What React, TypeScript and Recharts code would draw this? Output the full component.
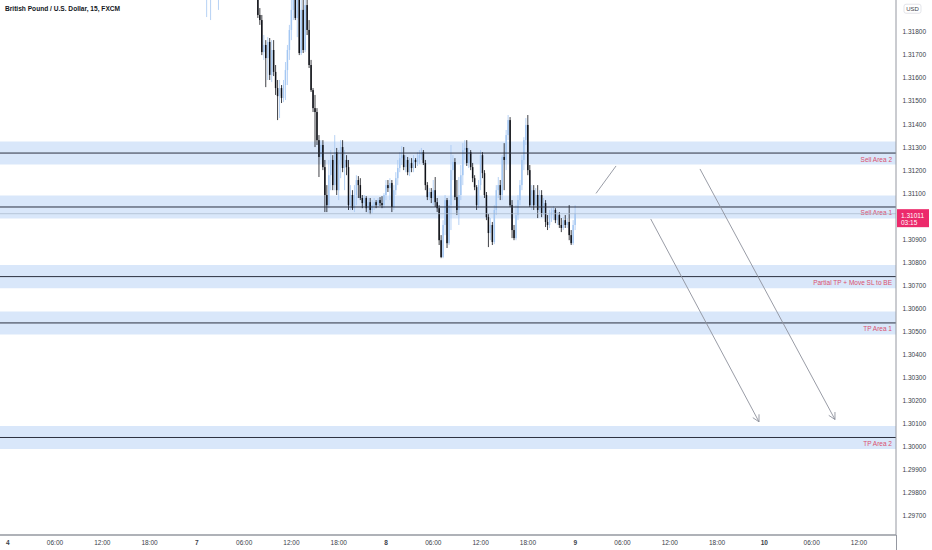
import React from 'react';
import { ComposedChart, Bar, XAxis, YAxis, ReferenceArea, ReferenceLine } from 'recharts';

// ---------- data ----------
const BAR_HOURS = 0.25; // 15-minute candles
const MAIN_START_HOUR = 31.75; // Monday 07:45 (hours since Friday 00:00, weekend skipped)

const earlyHours = [25.25, 25.75, 26.75];
const earlyOpen = [1.3196, 1.31981, 1.3196];
const earlyHigh = [1.32068, 1.32047, 1.32047];
const earlyLow = [1.31864, 1.31851, 1.31895];
const earlyClose = [1.32025, 1.32003, 1.32003];

const mainOpen = [
  1.32068, 1.31873, 1.31851, 1.31712, 1.31743, 1.31686, 1.31756, 1.31613, 1.31721, 1.31626,
  1.31556, 1.31521, 1.31556, 1.31513, 1.31569, 1.31634, 1.31721, 1.31808, 1.31895, 1.31981,
  1.3186, 1.32003, 1.31708, 1.31895, 1.31721, 1.31916, 1.31808, 1.31656, 1.31547, 1.31469,
  1.31452, 1.3133, 1.31257, 1.31309, 1.31213, 1.31092, 1.31048, 1.31178, 1.31244, 1.31135,
  1.31278, 1.31113, 1.31244, 1.313, 1.31209, 1.31244, 1.31213, 1.31048, 1.31092, 1.31035,
  1.31092, 1.31157, 1.31135, 1.31079, 1.31057, 1.31079, 1.31035, 1.31061, 1.31027, 1.31044,
  1.31061, 1.31048, 1.3107, 1.31057, 1.31048, 1.31092, 1.31135, 1.31122, 1.31144, 1.3104,
  1.31113, 1.31165, 1.31209, 1.31252, 1.31265, 1.31213, 1.31244, 1.31191, 1.31231, 1.31209,
  1.31244, 1.31235, 1.31252, 1.31265, 1.31278, 1.31231, 1.31135, 1.31083, 1.31105, 1.31079,
  1.31113, 1.31061, 1.31035, 1.30896, 1.30823, 1.30962, 1.3107, 1.30883, 1.31048, 1.312,
  1.31235, 1.31083, 1.31027, 1.31092, 1.31178, 1.31287, 1.31296, 1.31231, 1.31278, 1.31213,
  1.31165, 1.31126, 1.31048, 1.31135, 1.31265, 1.31187, 1.31092, 1.30996, 1.30927, 1.30962,
  1.30888, 1.31027, 1.31113, 1.31135, 1.31092, 1.31257, 1.31244, 1.31352, 1.31417, 1.31048,
  1.3094, 1.30905, 1.31005, 1.3107, 1.31135, 1.31244, 1.3133, 1.31396, 1.312, 1.31048,
  1.31113, 1.31048, 1.31092, 1.31027, 1.31092, 1.31014, 1.31057, 1.30975, 1.30962, 1.31005,
  1.31018, 1.31027, 1.30983, 1.31005, 1.30962, 1.30949, 1.30983, 1.30962, 1.30975, 1.30918,
  1.30883, 1.30962,
];
const mainHigh = [
  1.32112, 1.31903, 1.31873, 1.31786, 1.31764, 1.31777, 1.31773, 1.31764, 1.31764, 1.31656,
  1.31591, 1.31591, 1.31569, 1.31591, 1.31669, 1.31743, 1.3183, 1.31938, 1.32025, 1.32025,
  1.32047, 1.32025, 1.31938, 1.31938, 1.3196, 1.31981, 1.31851, 1.31678, 1.31556, 1.31526,
  1.31469, 1.31352, 1.3133, 1.3133, 1.31244, 1.31135, 1.31244, 1.31287, 1.31265, 1.31352,
  1.31296, 1.31287, 1.3133, 1.3133, 1.31287, 1.31265, 1.31244, 1.31135, 1.31113, 1.31135,
  1.31178, 1.31174, 1.31165, 1.31092, 1.31092, 1.31087, 1.31079, 1.31079, 1.3107, 1.31079,
  1.3107, 1.31079, 1.31083, 1.31087, 1.311, 1.31157, 1.31157, 1.31165, 1.31157, 1.31135,
  1.31191, 1.31244, 1.31278, 1.31304, 1.313, 1.31265, 1.31257, 1.31252, 1.31252, 1.31265,
  1.31252, 1.31278, 1.31287, 1.31296, 1.31287, 1.31244, 1.31148, 1.31122, 1.31122, 1.31157,
  1.3117, 1.31079, 1.31048, 1.30918, 1.30983, 1.31092, 1.31079, 1.3107, 1.31309, 1.31265,
  1.31252, 1.31157, 1.3117, 1.31222, 1.31317, 1.3133, 1.3133, 1.31296, 1.31287, 1.31231,
  1.31178, 1.31135, 1.31157, 1.31287, 1.31278, 1.312, 1.31105, 1.31009, 1.30992, 1.30975,
  1.31048, 1.31135, 1.3117, 1.31157, 1.31265, 1.31317, 1.31374, 1.31439, 1.3143, 1.3107,
  1.30962, 1.31048, 1.31092, 1.31157, 1.31265, 1.31343, 1.31426, 1.31439, 1.31222, 1.31135,
  1.31135, 1.31122, 1.31135, 1.31113, 1.31113, 1.31079, 1.3107, 1.31005, 1.31027, 1.31035,
  1.31044, 1.31035, 1.31018, 1.31018, 1.30992, 1.30996, 1.31005, 1.30992, 1.31048, 1.3094,
  1.30983, 1.31048,
];
const mainLow = [
  1.3186, 1.3183, 1.31699, 1.31678, 1.3156, 1.31591, 1.31591, 1.31582, 1.31608, 1.31526,
  1.31417, 1.31426, 1.31491, 1.31495, 1.31504, 1.31569, 1.31678, 1.31764, 1.31851, 1.31851,
  1.31777, 1.31699, 1.31699, 1.31708, 1.31712, 1.31786, 1.31643, 1.31539, 1.31452, 1.313,
  1.31309, 1.3117, 1.31244, 1.312, 1.31018, 1.31018, 1.31035, 1.31113, 1.31113, 1.31113,
  1.31092, 1.3107, 1.31165, 1.31191, 1.31113, 1.31178, 1.31027, 1.31027, 1.31027, 1.31018,
  1.31048, 1.31079, 1.3107, 1.31035, 1.31044, 1.31018, 1.31014, 1.31009, 1.31014, 1.31027,
  1.31035, 1.3104, 1.31044, 1.31035, 1.31035, 1.3107, 1.31105, 1.3107, 1.31018, 1.31027,
  1.31092, 1.31135, 1.31191, 1.31222, 1.312, 1.31191, 1.31178, 1.31174, 1.31191, 1.31191,
  1.31209, 1.31218, 1.31226, 1.31244, 1.31222, 1.31113, 1.3107, 1.3107, 1.31057, 1.31048,
  1.3104, 1.31018, 1.30875, 1.30818, 1.30818, 1.30918, 1.30862, 1.30875, 1.3094, 1.31157,
  1.3107, 1.31005, 1.30962, 1.3107, 1.31135, 1.31244, 1.31218, 1.31209, 1.312, 1.31148,
  1.31113, 1.31027, 1.31035, 1.31113, 1.31165, 1.31079, 1.30983, 1.30866, 1.30896, 1.30875,
  1.30879, 1.31005, 1.31079, 1.3107, 1.3107, 1.31113, 1.312, 1.3133, 1.3104, 1.30905,
  1.30896, 1.30896, 1.30983, 1.31048, 1.31113, 1.312, 1.31309, 1.31178, 1.3104, 1.31027,
  1.31027, 1.3104, 1.30992, 1.31018, 1.30996, 1.31005, 1.30953, 1.3094, 1.30949, 1.30975,
  1.30983, 1.3097, 1.30962, 1.30949, 1.30931, 1.3094, 1.30949, 1.30949, 1.30896, 1.30875,
  1.30875, 1.3094,
];
const mainClose = [
  1.31873, 1.31851, 1.31712, 1.31743, 1.31686, 1.31756, 1.31613, 1.31721, 1.31626, 1.31556,
  1.31521, 1.31556, 1.31513, 1.31569, 1.31634, 1.31721, 1.31808, 1.31895, 1.31981, 1.3186,
  1.32003, 1.31708, 1.31895, 1.31721, 1.31916, 1.31808, 1.31656, 1.31547, 1.31469, 1.31452,
  1.3133, 1.31257, 1.31309, 1.31213, 1.31092, 1.31048, 1.31178, 1.31244, 1.31135, 1.31278,
  1.31113, 1.31244, 1.313, 1.31209, 1.31244, 1.31213, 1.31048, 1.31092, 1.31035, 1.31092,
  1.31157, 1.31135, 1.31079, 1.31057, 1.31079, 1.31035, 1.31061, 1.31027, 1.31048, 1.31061,
  1.31048, 1.3107, 1.31057, 1.31048, 1.31092, 1.31135, 1.31122, 1.31144, 1.3104, 1.31113,
  1.31165, 1.31209, 1.31252, 1.31265, 1.31213, 1.31244, 1.31191, 1.31231, 1.31209, 1.31244,
  1.31235, 1.31252, 1.31265, 1.31278, 1.31231, 1.31135, 1.31083, 1.31105, 1.31079, 1.31113,
  1.31061, 1.31035, 1.30896, 1.30823, 1.30962, 1.3107, 1.30883, 1.31048, 1.312, 1.31235,
  1.31083, 1.31027, 1.31092, 1.31178, 1.31287, 1.31296, 1.31231, 1.31278, 1.31213, 1.31165,
  1.31126, 1.31048, 1.31135, 1.31265, 1.31187, 1.31092, 1.30996, 1.30927, 1.30962, 1.30888,
  1.31027, 1.31113, 1.31135, 1.31092, 1.31257, 1.31244, 1.31352, 1.31417, 1.31048, 1.3094,
  1.30905, 1.31005, 1.3107, 1.31135, 1.31244, 1.3133, 1.31396, 1.312, 1.31048, 1.31113,
  1.31048, 1.31092, 1.31027, 1.31092, 1.31014, 1.31057, 1.30975, 1.30962, 1.31005, 1.31018,
  1.31027, 1.30983, 1.31005, 1.30962, 1.30949, 1.30983, 1.30962, 1.30975, 1.30918, 1.30883,
  1.30962, 1.31011,
];

const levelNames = ['Sell Area 2', 'Sell Area 1', 'Partial TP + Move SL to BE', 'TP Area 1', 'TP Area 2'];
const levelPrices = [1.31274, 1.3104, 1.30738, 1.30537, 1.3004];
const BAND_HALF = 0.0005;

const lastPrice = 1.31011;
const lastPriceText = '1.31011';
const countdownText = '03:15';
const currencyText = 'USD';
const CURRENCY_TICK = 1.319;

const timeTicks = [0, 6, 12, 18, 24, 30, 36, 42, 48, 54, 60, 66, 72, 78, 84, 90, 96, 102, 108];
const timeTickLabels = ['4', '06:00', '12:00', '18:00', '7', '06:00', '12:00', '18:00', '8', '06:00', '12:00', '18:00', '9', '06:00', '12:00', '18:00', '10', '06:00', '12:00'];
const priceTicks = [1.297, 1.298, 1.299, 1.3, 1.301, 1.302, 1.303, 1.304, 1.305, 1.306, 1.307, 1.308, 1.309, 1.311, 1.312, 1.313, 1.314, 1.315, 1.316, 1.317, 1.318, 1.319];

// drawings: start (hour, price) -> end (hour, price)
const drawFromHour = [74.64, 81.58, 87.83];
const drawFromPrice = [1.31099, 1.30988, 1.31205];
const drawToHour = [77.18, 95.32, 104.96];
const drawToPrice = [1.31218, 1.30108, 1.30118];
const drawHasHead = [false, true, true];

const X_DOMAIN: [number, number] = [-0.98, 112.7];
const Y_DOMAIN: [number, number] = [1.29617, 1.31938];

// ---------- style ----------
const FONT = '"Liberation Sans", Arial, sans-serif';
const UP = '#a4c7f2';
const DOWN = '#101218';
const BAND = '#d9e7fa';
const LINE = '#2c3140';
const TEXT = '#3a3e49';
const LABEL_RED = '#d9506f';

const candles = [
  ...earlyHours.map((t, i) => ({ t, open: earlyOpen[i], high: earlyHigh[i], low: earlyLow[i], close: earlyClose[i] })),
  ...mainOpen.map((o, i) => ({
    t: MAIN_START_HOUR + i * BAR_HOURS,
    open: o,
    high: mainHigh[i],
    low: mainLow[i],
    close: mainClose[i],
  })),
];

const Candle = (props: any) => {
  const { x, y, width, height, payload } = props;
  if (!payload || x == null || y == null) return null;
  const { open, high, low, close } = payload;
  const top = Math.min(y, y + height);
  const bot = Math.max(y, y + height);
  const span = high - low;
  const py = (v: number) => (span === 0 ? top : top + ((high - v) / span) * (bot - top));
  const cx = x + width / 2;
  const up = close >= open;
  const color = up ? UP : DOWN;
  const bTop = py(Math.max(open, close));
  const bBot = py(Math.min(open, close));
  return (
    <g>
      <line x1={cx} x2={cx} y1={top} y2={bot} stroke={color} strokeWidth={0.8} />
      <rect x={cx - 0.75} y={bTop} width={1.5} height={Math.max(0.8, bBot - bTop)} fill={color} />
    </g>
  );
};

const TimeTick = (props: any) => {
  const { x, y, payload, index } = props;
  const idx = timeTicks.indexOf(payload.value);
  const label = timeTickLabels[idx >= 0 ? idx : index] ?? '';
  const isDay = !label.includes(':');
  return (
    <text x={x} y={y + 7.5} textAnchor="middle" dominantBaseline="central" fontSize={6.5}
      fontWeight={isDay ? 700 : 400} fill={TEXT} fontFamily={FONT}>
      {label}
    </text>
  );
};

const PriceTick = (props: any) => {
  const { x, y, payload } = props;
  const v = payload.value as number;
  if (Math.abs(v - CURRENCY_TICK) < 1e-9) {
    // the currency badge sits on top of this tick, hiding its label
    return (
      <g>
        <rect x={x + 8} y={y - 4.5} width={17} height={9} rx={2} fill="#fff" stroke="#d1d4dc" strokeWidth={0.6} />
        <text x={x + 16.5} y={y} textAnchor="middle" dominantBaseline="central" fontSize={6} fill={TEXT} fontFamily={FONT}>
          {currencyText}
        </text>
      </g>
    );
  }
  return (
    <text x={x + 6.5} y={y} textAnchor="start" dominantBaseline="central" fontSize={6.5} fill={TEXT} fontFamily={FONT}>
      {v.toFixed(5)}
    </text>
  );
};

const LevelLabel = (props: any) => {
  const { viewBox, text } = props;
  if (!viewBox) return null;
  const right = viewBox.x + (viewBox.width || 0);
  return (
    <text x={right - 4} y={viewBox.y + 6} textAnchor="end" dominantBaseline="central" fontSize={6.5} fill={LABEL_RED} fontFamily={FONT}>
      {text}
    </text>
  );
};

const PriceBadge = (props: any) => {
  const { viewBox } = props;
  if (!viewBox) return null;
  const left = viewBox.x + (viewBox.width || 0) + 1;
  const y = viewBox.y;
  return (
    <g>
      <rect x={left} y={y - 4.5} width={32} height={18} fill="#ec2a6b" />
      <text x={left + 4} y={y + 1.5} dominantBaseline="central" fontSize={6.5} fill="#fff" fontFamily={FONT}>
        {lastPriceText}
      </text>
      <text x={left + 4} y={y + 8.8} dominantBaseline="central" fontSize={6.5} fill="#fff" fontFamily={FONT}>
        {countdownText}
      </text>
    </g>
  );
};

const DrawingShape = (props: any) => {
  const { x1, y1, x2, y2, head } = props;
  if (x1 == null) return null;
  const dx = x1 - x2;
  const dy = y1 - y2;
  const len = Math.sqrt(dx * dx + dy * dy) || 1;
  const ux = dx / len;
  const uy = dy / len;
  const a = (28 * Math.PI) / 180;
  const L = 7.5;
  const r1x = ux * Math.cos(a) - uy * Math.sin(a);
  const r1y = ux * Math.sin(a) + uy * Math.cos(a);
  const r2x = ux * Math.cos(-a) - uy * Math.sin(-a);
  const r2y = ux * Math.sin(-a) + uy * Math.cos(-a);
  return (
    <g stroke="#8d919c" strokeWidth={0.9} fill="none">
      <line x1={x1} y1={y1} x2={x2} y2={y2} />
      {head && (
        <polyline points={`${x2 + r1x * L},${y2 + r1y * L} ${x2},${y2} ${x2 + r2x * L},${y2 + r2y * L}`} />
      )}
    </g>
  );
};

export default function App() {
  return (
    <div style={{ position: 'absolute', left: 0, top: 0, width: 932, height: 550, background: '#fff', fontFamily: FONT }}>
      <ComposedChart width={932} height={550} data={candles} margin={{ top: 0, right: 0, bottom: 0, left: 0 }}>
        <XAxis
          type="number"
          dataKey="t"
          domain={X_DOMAIN}
          allowDataOverflow
          ticks={timeTicks}
          interval={0}
          tick={<TimeTick />}
          tickLine={false}
          tickSize={0}
          tickMargin={0}
          height={15}
          axisLine={{ stroke: '#9598a1', strokeWidth: 1.5 }}
        />
        <YAxis
          orientation="right"
          type="number"
          domain={Y_DOMAIN}
          allowDataOverflow
          ticks={priceTicks}
          interval={0}
          tick={<PriceTick />}
          tickLine={false}
          tickSize={0}
          tickMargin={0}
          width={36}
          axisLine={{ stroke: '#9598a1' }}
        />
        {levelPrices.map((p, i) => (
          <ReferenceArea key={'band' + i} y1={p - BAND_HALF} y2={p + BAND_HALF} fill={BAND} fillOpacity={1} stroke="none" />
        ))}
        {levelPrices.map((p, i) => (
          <ReferenceLine key={'lvl' + i} y={p} stroke={LINE} strokeWidth={1} label={<LevelLabel text={levelNames[i]} />} />
        ))}
        <ReferenceLine y={lastPrice} stroke="#a9b7cb" strokeWidth={0.7} label={<PriceBadge />} />
        {drawFromHour.map((h, i) => (
          <ReferenceLine
            key={'draw' + i}
            segment={[
              { x: h, y: drawFromPrice[i] },
              { x: drawToHour[i], y: drawToPrice[i] },
            ]}
            stroke="#8d919c"
            shape={(p: any) => <DrawingShape {...p} head={drawHasHead[i]} />}
          />
        ))}
        <Bar
          dataKey={(d: any) => [d.low, d.high]}
          shape={(p: any) => <Candle {...p} />}
          barSize={2}
          isAnimationActive={false}
        />
      </ComposedChart>
      <div
        style={{
          position: 'absolute',
          left: 5,
          top: 5,
          fontSize: 6.6,
          fontWeight: 700,
          color: '#131722',
          fontFamily: FONT,
          lineHeight: '8px',
          whiteSpace: 'nowrap',
        }}
      >
        British Pound / U.S. Dollar, 15, FXCM
      </div>
      <div style={{ position: 'absolute', left: 896, top: 535, width: 1, height: 15, background: '#9598a1' }} />
    </div>
  );
}
